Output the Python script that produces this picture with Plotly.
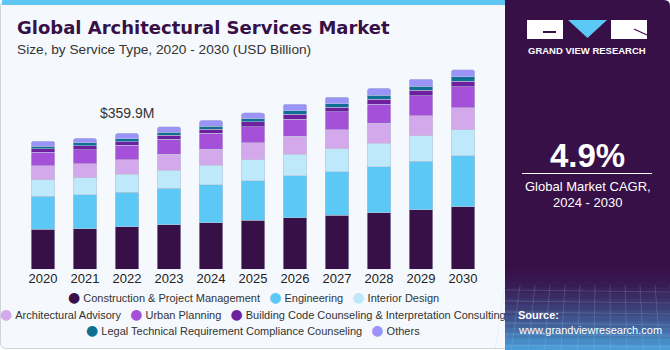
import plotly.graph_objects as go

years = ["2020", "2021", "2022", "2023", "2024", "2025", "2026", "2027", "2028", "2029", "2030"]
construction = [105.9, 107.6, 112.0, 118.2, 123.5, 129.7, 136.7, 142.9, 149.9, 157.9, 165.8]
engineering = [87.3, 89.1, 91.7, 96.1, 100.5, 105.0, 111.1, 115.5, 121.7, 127.9, 134.1]
interior = [43.2, 45.9, 47.6, 48.5, 52.0, 54.7, 57.3, 60.0, 62.6, 67.0, 69.7]
advisory = [37.0, 37.0, 38.8, 42.3, 42.3, 45.0, 46.7, 50.3, 52.0, 53.8, 57.3]
urban = [37.0, 37.0, 38.8, 39.7, 42.3, 43.2, 45.9, 47.6, 51.2, 52.9, 55.6]
building = [8.8, 10.6, 8.8, 10.6, 10.6, 12.3, 13.2, 13.2, 13.2, 15.0, 15.0]
legal = [7.1, 7.1, 7.9, 7.9, 7.9, 7.9, 8.8, 8.8, 9.7, 10.6, 11.5]
others = [13.2, 12.3, 14.1, 14.1, 15.0, 15.9, 17.6, 17.6, 18.5, 18.5, 19.4]

series_names = [
    "Construction & Project Management", "Engineering", "Interior Design",
    "Architectural Advisory", "Urban Planning",
    "Building Code Counseling & Interpretation Consulting",
    "Legal Technical Requirement Compliance Counseling", "Others",
]
series_values = [construction, engineering, interior, advisory, urban, building, legal, others]
series_colors = ["#371047", "#5bc8f5", "#bde9fa", "#d4a9ec", "#a550d8", "#6e1fa0", "#0f6f94", "#9a94f8"]
legend_rows = [[0, 1, 2], [3, 4, 5], [6, 7]]

label_year = "2022"
label_text = "$359.9M"

title_text = "Global Architectural Services Market"
subtitle_text = "Size, by Service Type, 2020 - 2030 (USD Billion)"
cagr_text = "4.9%"

W, H = 670, 350
FONT = "Liberation Sans, Arial, sans-serif"


def px(x):
    return x / W


def py(y):
    return 1 - y / H


fig = go.Figure()
for name, vals, col in zip(series_names, series_values, series_colors):
    fig.add_trace(go.Bar(
        x=years, y=vals, name=name, showlegend=False,
        marker=dict(color=col, line=dict(color="rgba(190,195,215,0.9)", width=0.6)),
        hoverinfo="x+y+name",
    ))

fig.update_layout(
    width=W, height=H, autosize=False,
    margin=dict(l=0, r=0, t=0, b=0),
    paper_bgcolor="#ffffff", plot_bgcolor="rgba(0,0,0,0)",
    barmode="stack", bargap=0.43, barcornerradius=3,
    showlegend=False,
    font=dict(family=FONT, color="#222222"),
    xaxis=dict(domain=[px(22), px(484)], type="category", range=[-0.5, 10.5],
               showgrid=False, zeroline=False, showline=False, ticks="",
               tickfont=dict(size=13, color="#222222", family=FONT)),
    yaxis=dict(domain=[py(269.3), py(60)], range=[0, 553.9], visible=False),
)

shapes = []
# card background
r = 6
x0, y0, x1, y1 = 0.5, 0.5, 510, 348.5
shapes.append(dict(type="path", xref="paper", yref="paper", layer="below",
                   path=(f"M {px(x0+r)},{py(y0)} L {px(x1)},{py(y0)} L {px(x1)},{py(y1)} "
                         f"L {px(x0+r)},{py(y1)} Q {px(x0)},{py(y1)} {px(x0)},{py(y1-r)} "
                         f"L {px(x0)},{py(y0+r)} Q {px(x0)},{py(y0)} {px(x0+r)},{py(y0)} Z"),
                   fillcolor="#f5f9fd", line=dict(color="#cfd4db", width=1)))
# top stripe
shapes.append(dict(type="rect", xref="paper", yref="paper", layer="below",
                   x0=px(2), x1=px(506), y0=py(0), y1=py(5),
                   fillcolor="#5ec6f2", line=dict(width=0)))
# dark panel
shapes.append(dict(type="path", xref="paper", yref="paper", layer="below",
                   path=(f"M {px(505)},{py(0)} L {px(664)},{py(0)} Q {px(670)},{py(0)} {px(670)},{py(6)} "
                         f"L {px(670)},{py(350)} L {px(505)},{py(350)} Z"),
                   fillcolor="#381048", line=dict(width=0)))
# bottom gradient of panel
n_b = 14
for i in range(n_b):
    t = (i + 1) / n_b
    c0 = (0x38, 0x10, 0x48)
    c1 = (0x4a, 0x9c, 0xd6)
    cc = tuple(int(c0[k] + (c1[k] - c0[k]) * t ** 1.6) for k in range(3))
    yy0 = 270 + i * (80 / n_b)
    shapes.append(dict(type="rect", xref="paper", yref="paper", layer="below",
                       x0=px(505), x1=px(670), y0=py(yy0), y1=py(yy0 + 80 / n_b + 0.5),
                       fillcolor="rgb(%d,%d,%d)" % cc, line=dict(width=0)))
# faint grid lines in panel bottom
for k in range(12):
    xx = 505 + k * 15
    shapes.append(dict(type="line", xref="paper", yref="paper", layer="below",
                       x0=px(xx), x1=px(xx - 10 + k * 1.5), y0=py(285), y1=py(350),
                       line=dict(color="rgba(170,200,235,0.2)", width=1)))
for k in range(6):
    yy = 290 + k * 11
    shapes.append(dict(type="line", xref="paper", yref="paper", layer="below",
                       x0=px(505), x1=px(670), y0=py(yy), y1=py(yy + 2),
                       line=dict(color="rgba(170,200,235,0.2)", width=1)))
# logo
shapes.append(dict(type="rect", xref="paper", yref="paper",
                   x0=px(527), x1=px(563), y0=py(20), y1=py(39),
                   fillcolor="#ffffff", line=dict(width=0)))
shapes.append(dict(type="rect", xref="paper", yref="paper",
                   x0=px(543), x1=px(556), y0=py(31), y1=py(33),
                   fillcolor="#381048", line=dict(width=0)))
shapes.append(dict(type="path", xref="paper", yref="paper",
                   path=f"M {px(568)},{py(20)} L {px(607)},{py(20)} L {px(587.5)},{py(38)} Z",
                   fillcolor="#5bc8f5", line=dict(width=0)))
shapes.append(dict(type="rect", xref="paper", yref="paper",
                   x0=px(611), x1=px(647), y0=py(20), y1=py(39),
                   fillcolor="#ffffff", line=dict(width=0)))
shapes.append(dict(type="line", xref="paper", yref="paper",
                   x0=px(634), x1=px(647), y0=py(29), y1=py(35),
                   line=dict(color="#381048", width=1.2)))
# separator line under CAGR
shapes.append(dict(type="line", xref="paper", yref="paper",
                   x0=px(522), x1=px(652), y0=py(173.5), y1=py(173.5),
                   line=dict(color="#ffffff", width=1)))

annotations = []


def ann(text, x, y, size, color="#222222", xanchor="left", bold=False, family=FONT, **kw):
    f = dict(size=size, color=color, family=family)
    if bold:
        f["weight"] = "bold"
    annotations.append(dict(text=text, x=px(x), y=py(y), xref="paper", yref="paper",
                            xanchor=xanchor, yanchor="middle", showarrow=False,
                            font=f, **kw))


ann(title_text, 15, 28, 18, color="#371047", bold=True, family="DejaVu Sans, sans-serif")
ann(subtitle_text, 15, 50, 13.7, color="#333333")

ann("GRAND VIEW RESEARCH", 587, 51, 9.5, color="#ffffff", xanchor="center", bold=True)
ann(cagr_text, 587.5, 155, 33, color="#ffffff", xanchor="center", bold=True)
ann("Global Market CAGR,", 587.5, 186, 13, color="#ffffff", xanchor="center")
ann("2024 - 2030", 587.5, 202, 13, color="#ffffff", xanchor="center")
ann("Source:", 516, 315, 11, color="#ffffff", bold=True)
ann("www.grandviewresearch.com", 516, 329.5, 11, color="#ffffff")

# value label above highlighted bar
idx = years.index(label_year)
total = sum(v[idx] for v in series_values)
annotations.append(dict(text=label_text, x=idx, y=total, xref="x", yref="y",
                        yanchor="bottom", yshift=10, showarrow=False,
                        font=dict(size=14, color="#333333", family=FONT)))

# legend rows
row_y = [297, 313.5, 329.5]
for row, yy in zip(legend_rows, row_y):
    parts = []
    for i in row:
        parts.append(f'<span style="color:{series_colors[i]};font-size:14px;'
                     f'font-family:DejaVu Sans">●</span>\u00a0{series_names[i]}')
    ann("\u00a0\u00a0\u00a0".join(parts), 253, yy, 11, color="#333333", xanchor="center")

fig.update_layout(shapes=shapes, annotations=annotations)
fig.write_html("out.html")
